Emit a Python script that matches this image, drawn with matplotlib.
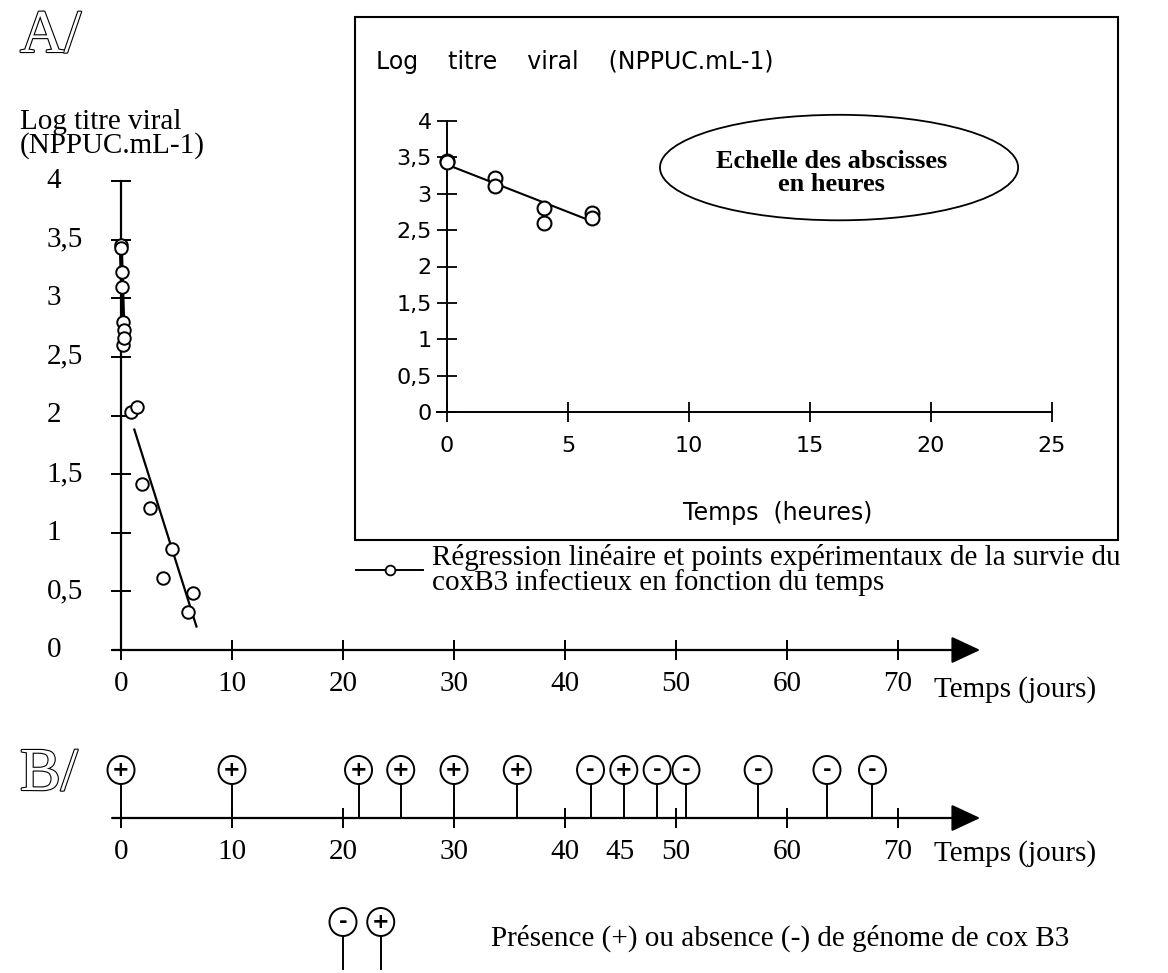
import matplotlib
matplotlib.use("Agg")
import matplotlib.pyplot as plt
import matplotlib.patheffects as pe
from matplotlib.patches import Ellipse, Rectangle
from matplotlib.lines import Line2D
import numpy as np

# values
hours = [0, 0, 2, 2, 4, 4, 6, 6]
log_hours = [3.45, 3.43, 3.22, 3.10, 2.80, 2.60, 2.73, 2.66]
fit_hours = [0, 6]
fit_log_hours = [3.40, 2.62]

days = [0.9, 1.4, 1.9, 2.6, 3.8, 4.6, 6.0, 6.5]
log_days = [2.03, 2.07, 1.42, 1.21, 0.61, 0.86, 0.32, 0.49]
fit_days = [1.2, 6.8]
fit_log_days = [1.88, 0.20]

pcr_days = [0, 10, 21.4, 25.2, 30, 35.7, 42.3, 45.3, 48.3, 50.9, 57.4, 63.6, 67.7]
pcr_sign = ['+', '+', '+', '+', '+', '+', '-', '+', '-', '-', '-', '-', '-']
legend_sign = ['-', '+']

y_ticks = [0, 0.5, 1, 1.5, 2, 2.5, 3, 3.5, 4]
y_labels = ['0', '0,5', '1', '1,5', '2', '2,5', '3', '3,5', '4']
day_ticks = [0, 10, 20, 30, 40, 50, 60, 70]
b_labels = [0, 10, 20, 30, 40, 45, 50, 60, 70]
hour_ticks = [0, 5, 10, 15, 20, 25]

W, H = 1168, 973
SERIF = 'Liberation Serif'
SANS = 'DejaVu Sans'
FS = 21


def px(x0, y0, x1, y1):
    # axes rectangle from pixel corners (top-left origin)
    return [x0 / W, 1 - y1 / H, (x1 - x0) / W, (y1 - y0) / H]


def arrow_axis(a, x_from, x_to):
    a.annotate('', xy=(x_to, 0), xytext=(x_from, 0), annotation_clip=False,
               arrowprops=dict(arrowstyle='-|>,head_length=0.9,head_width=0.42',
                               mutation_scale=20, lw=1.6, color='black',
                               shrinkA=0, shrinkB=0))


fig = plt.figure(figsize=(W / 100, H / 100), dpi=100)

# ---------- A/ main plot (days) ----------
X0, SX = 121, 11.1
day_lim = (-1, 78)
left_px = X0 + day_lim[0] * SX
right_px = X0 + day_lim[1] * SX

ax = fig.add_axes(px(left_px, 181, right_px, 650))
ax.set_xlim(day_lim)
ax.set_ylim(0, 4)
ax.patch.set_visible(False)
for s in ['top', 'right', 'bottom']:
    ax.spines[s].set_visible(False)
ax.spines['left'].set_position(('data', 0))
ax.spines['left'].set_linewidth(1.6)
ax.set_yticks(y_ticks)
ax.set_yticklabels([])
ax.set_xticks(day_ticks)
ax.set_xticklabels([str(v) for v in day_ticks], family=SERIF, fontsize=FS)
ax.tick_params(direction='inout', length=14, width=1.4, pad=8)
for v, lab in zip(y_ticks, y_labels):
    ax.text(-6.7, v, lab, ha='left', va='center', family=SERIF, fontsize=FS)
arrow_axis(ax, -0.8, 77.4)
ax.text(73.2, -0.34, 'Temps (jours)', ha='left', va='center', family=SERIF, fontsize=FS)

ax.plot(np.array(fit_hours) / 24, fit_log_hours, color='black', lw=3, clip_on=False)
ax.plot(fit_days, fit_log_days, color='black', lw=1.6, clip_on=False)
ax.plot(np.array(hours) / 24, log_hours, 'o', ms=9, mfc='white', mec='black', mew=1.4,
        clip_on=False, zorder=3)
ax.plot(days, log_days, 'o', ms=9, mfc='white', mec='black', mew=1.4,
        clip_on=False, zorder=3)

fig.text(20 / W, 1 - 153 / H, 'Log titre viral\n(NPPUC.mL-1)', va='baseline',
         family=SERIF, fontsize=FS, linespacing=0.85)

h = Line2D([], [], color='black', lw=1.4, marker='o', ms=7, mfc='white', mec='black', mew=1.3)
leg = fig.legend([h], ['Régression linéaire et points expérimentaux de la survie du\n'
                       'coxB3 infectieux en fonction du temps'],
                 loc='center left', bbox_to_anchor=(356 / W, 1 - 570 / H),
                 frameon=False, borderpad=0, borderaxespad=0, handlelength=2.3,
                 handletextpad=0.3, prop={'family': SERIF, 'size': FS})
for t in leg.get_texts():
    t.set_linespacing(0.88)

# outlined panel letters
outline = [pe.withStroke(linewidth=1.6, foreground='black')]
fig.text(20 / W, 1 - 52 / H, 'A/', va='baseline', family=SERIF, fontsize=44,
         color='white', path_effects=outline)
fig.text(20 / W, 1 - 790 / H, 'B/', va='baseline', family=SERIF, fontsize=44,
         color='white', path_effects=outline)

# ---------- inset (hours) ----------
fig.add_artist(Rectangle((355 / W, 1 - 540 / H), (1118 - 355) / W, (540 - 17) / H,
                         transform=fig.transFigure, fill=False, lw=1.5, ec='black'))
IX0, ISX = 447, 24.2
hour_lim = (-1, 26)
ax_in = fig.add_axes(px(IX0 + hour_lim[0] * ISX, 121, IX0 + hour_lim[1] * ISX, 412))
ax_in.set_xlim(hour_lim)
ax_in.set_ylim(0, 4)
ax_in.patch.set_visible(False)
for s in ['top', 'right']:
    ax_in.spines[s].set_visible(False)
ax_in.spines['left'].set_position(('data', 0))
ax_in.spines['left'].set_bounds(0, 4)
ax_in.spines['bottom'].set_bounds(-0.4, 25)
for s in ['left', 'bottom']:
    ax_in.spines[s].set_linewidth(1.4)
ax_in.set_yticks(y_ticks)
ax_in.set_yticklabels(y_labels, family=SANS, fontsize=16)
ax_in.set_xticks(hour_ticks)
ax_in.set_xticklabels([str(v) for v in hour_ticks], family=SANS, fontsize=16)
ax_in.tick_params(direction='inout', length=14, width=1.3)
ax_in.tick_params(axis='y', pad=4)
ax_in.tick_params(axis='x', pad=10)

ax_in.plot(fit_hours, fit_log_hours, color='black', lw=1.5, clip_on=False)
ax_in.plot(hours, log_hours, 'o', ms=10, mfc='white', mec='black', mew=1.5,
           clip_on=False, zorder=3)

ax_in.add_patch(Ellipse((16.2, 3.36), 14.8, 1.45, fill=False, ec='black', lw=1.3,
                        clip_on=False))
ax_in.text(15.9, 3.29, 'Echelle des abscisses\nen heures', ha='center', va='center',
           family=SERIF, fontweight='bold', fontsize=19, linespacing=1.0)

fig.text(376 / W, 1 - 62 / H, 'Log    titre    viral    (NPPUC.mL-1)', va='center',
         family=SANS, fontsize=17)
fig.text(778 / W, 1 - 513 / H, 'Temps  (heures)', ha='center', va='center',
         family=SANS, fontsize=17)

# ---------- B/ PCR results (days) ----------
ax_b = fig.add_axes(px(left_px, 740, right_px, 830))
ax_b.set_xlim(day_lim)
ax_b.set_ylim(-12, 78)  # one unit per pixel, axis line at 0
ax_b.patch.set_visible(False)
for s in ['top', 'right', 'left', 'bottom']:
    ax_b.spines[s].set_visible(False)
ax_b.spines['bottom'].set_position(('data', 0))
ax_b.set_yticks([])
ax_b.set_xticks(day_ticks)
ax_b.set_xticklabels([])
ax_b.tick_params(axis='x', direction='inout', length=14, width=1.4)
arrow_axis(ax_b, -0.8, 77.4)

ax_b.vlines(pcr_days, 0, 34, color='black', lw=1.4)
for d, s in zip(pcr_days, pcr_sign):
    ax_b.add_patch(Ellipse((d, 48), 27 / SX, 28, fc='white', ec='black', lw=1.4, clip_on=False))
    ax_b.text(d, 48, s, ha='center', va='center', family=SANS, fontweight='bold', fontsize=15)
for v in b_labels:
    ax_b.text(v, -34, str(v), ha='center', va='center', family=SERIF, fontsize=FS)
ax_b.text(73.2, -36, 'Temps (jours)', ha='left', va='center', family=SERIF, fontsize=FS)

# legend for B
legend_x = [20.0, 23.4]
ax_b.vlines(legend_x, -152, -118, color='black', lw=1.4, clip_on=False)
for d, s in zip(legend_x, legend_sign):
    ax_b.add_patch(Ellipse((d, -104), 27 / SX, 28, fc='white', ec='black', lw=1.4, clip_on=False))
    ax_b.text(d, -104, s, ha='center', va='center', family=SANS, fontweight='bold', fontsize=15)
ax_b.text(33.3, -120, 'Présence (+) ou absence (-) de génome de cox B3', ha='left',
          va='center', family=SERIF, fontsize=FS)

fig.savefig('out.png', dpi=100)
